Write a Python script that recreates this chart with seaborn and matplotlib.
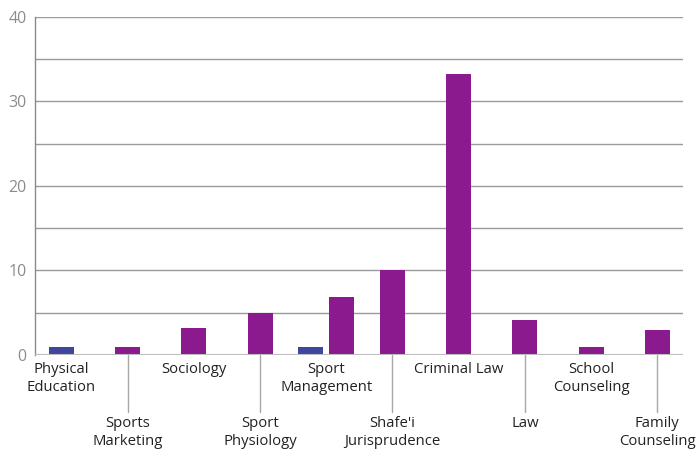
import pandas as pd
import matplotlib.pyplot as plt
import seaborn as sns

# datos del grafico
categorias = ['Physical\nEducation', 'Sports\nMarketing', 'Sociology', 'Sport\nPhysiology',
              'Sport\nManagement', "Shafe'i\nJurisprudence", 'Criminal Law', 'Law',
              'School\nCounseling', 'Family\nCounseling']
serie_azul = [1, None, None, None, 1, None, None, None, None, None]
serie_morada = [None, 1, 3.2, 5, 6.9, 10, 33.3, 4.1, 1, 3]
y_ticks = [0, 10, 20, 30, 40]

colores = {'azul': '#3f479c', 'morada': '#8b1a8e'}

# armar tabla larga; si una categoria tiene dos barras se separan un poco
filas = []
for i, cat in enumerate(categorias):
    vals = [('azul', serie_azul[i]), ('morada', serie_morada[i])]
    vals = [(s, v) for s, v in vals if v is not None]
    sep = 0.234 if len(vals) == 2 else 0
    for j, (s, v) in enumerate(vals):
        pos = i + (j - (len(vals) - 1) / 2) * 2 * sep
        filas.append({'pos': pos, 'valor': v, 'serie': s})
df = pd.DataFrame(filas)

sns.set_style('white')
plt.rcParams['font.family'] = ['Open Sans', 'DejaVu Sans']

fig = plt.figure(figsize=(6.97, 4.59), dpi=100)
ax = fig.add_axes([0.0502, 0.2266, 0.9298, 0.7364])

# gridlines
for g in range(5, 45, 5):
    ax.axhline(g, color='#9a9a9a', lw=1, zorder=0)

sns.barplot(data=df, x='pos', y='valor', hue='serie', palette=colores, native_scale=True,
            dodge=False, width=0.808, errorbar=None, legend=False, ax=ax, zorder=2,
            saturation=1, linewidth=0, edgecolor='none')

ax.axhline(0, color='#bdbdbd', lw=2.2, zorder=3)

ax.set_xlim(-0.40, 9.39)
ax.set_ylim(0, 40)
ax.set_yticks(y_ticks)
ax.set_yticklabels([str(t) for t in y_ticks], color='#8c8c8c', fontsize=11.5)
ax.tick_params(axis='y', length=0, pad=6)
ax.set_xticks([])
ax.set_xlabel('')
ax.set_ylabel('')

for lado in ['top', 'right', 'bottom']:
    ax.spines[lado].set_visible(False)
ax.spines['left'].set_color('#8a8a8a')
ax.spines['left'].set_linewidth(1)

# etiquetas escalonadas con lineas guia
trans = ax.get_xaxis_transform()
alto = 338.0
for i, cat in enumerate(categorias):
    if i % 2 == 0:
        ax.text(i, -7 / alto, cat, transform=trans, ha='center', va='top',
                fontsize=10.7, color='#222222', linespacing=1.3)
    else:
        ax.plot([i, i], [0, -57 / alto], transform=trans, color='#a8a8a8', lw=1,
                clip_on=False)
        ax.text(i, -61 / alto, cat, transform=trans, ha='center', va='top',
                fontsize=10.7, color='#222222', linespacing=1.3)

plt.savefig('out.png', dpi=100)
